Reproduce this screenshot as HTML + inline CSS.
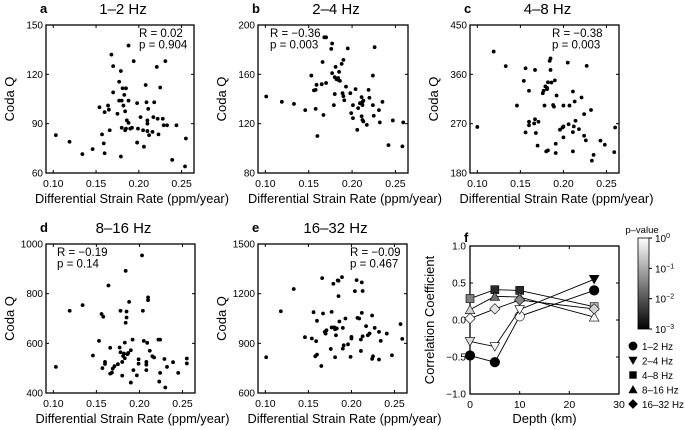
<!DOCTYPE html>
<html><head><meta charset="utf-8"><style>
body{margin:0;background:#fff;}
svg{display:block;font-family:"Liberation Sans",sans-serif;}
</style></head><body>
<svg id="fig" width="685" height="430" viewBox="0 0 685 430"></svg>
<script>
const aX=[0.103,0.119,0.134,0.146,0.154,0.157,0.159,0.160,0.160,0.164,0.165,0.166,0.168,0.170,0.170,0.175,0.177,0.177,0.179,0.179,0.180,0.180,0.181,0.182,0.183,0.184,0.184,0.185,0.185,0.186,0.188,0.188,0.188,0.190,0.192,0.194,0.198,0.198,0.199,0.202,0.205,0.206,0.208,0.209,0.210,0.210,0.210,0.211,0.212,0.216,0.217,0.218,0.221,0.222,0.223,0.225,0.228,0.229,0.231,0.233,0.239,0.244,0.254,0.255];
const aQ=[83,79,71.5,74.5,100,83.5,78,72,97,101,98.5,86,132,125,109,96,115.5,104,70,122,104,87.5,111.5,101,107.5,86,97.5,111.5,87,92,104,137.5,90.5,87,87.5,128,78.5,102.5,87,94,86,76,113.5,103,85.5,90,92,99,83,85,94,103,124.5,93,83.5,112,93,89,128,89,68,89,64,81];
const bX=[0.101,0.119,0.133,0.146,0.153,0.156,0.158,0.158,0.159,0.160,0.165,0.166,0.167,0.168,0.170,0.170,0.176,0.177,0.177,0.179,0.180,0.180,0.181,0.182,0.184,0.184,0.185,0.186,0.188,0.190,0.189,0.190,0.191,0.193,0.195,0.198,0.199,0.201,0.201,0.204,0.206,0.207,0.209,0.211,0.211,0.212,0.212,0.212,0.213,0.213,0.217,0.219,0.220,0.224,0.224,0.225,0.226,0.231,0.232,0.235,0.242,0.247,0.258,0.259];
const bQ=[142,137.7,136,131,159,147,132,147.4,151.5,110,152,170,127,190,153,190,180.6,185,161,135,144,157.7,166,156,157,155.5,162,154.7,168.5,171.7,144.7,142.3,139,150,181,144.7,128.5,124.5,135,148,115,132.6,136.6,141.5,126,135,137.7,123,138.7,121.8,119,147.4,141,159,135,126.4,182,131,121,137.7,102.6,122.6,101.6,121];
const cX=[0.100,0.119,0.133,0.146,0.156,0.156,0.160,0.160,0.160,0.154,0.166,0.167,0.167,0.168,0.170,0.171,0.176,0.177,0.178,0.179,0.180,0.181,0.181,0.182,0.182,0.184,0.185,0.185,0.186,0.188,0.189,0.190,0.191,0.191,0.192,0.196,0.199,0.200,0.200,0.200,0.205,0.206,0.207,0.211,0.211,0.211,0.212,0.213,0.214,0.218,0.221,0.224,0.224,0.226,0.227,0.232,0.233,0.235,0.243,0.248,0.259,0.260];
const cQ=[264,401.5,375,303,254,371,273.5,267,330,348,270.4,368,278,253,230,273.5,325.6,330,303,338,219.5,335,333,221.3,345.6,384.5,368,389,345,304,301,349,216.5,233.4,321.4,259,263,265,245,303,381.4,269,303,328.7,254.6,219.5,265,310.5,275.3,260,317.7,287.4,248,239.5,375.4,295,202.5,213,239,231.6,218,263];
const dX=[0.103,0.119,0.134,0.146,0.153,0.156,0.157,0.158,0.160,0.160,0.164,0.166,0.166,0.168,0.169,0.171,0.175,0.177,0.178,0.178,0.180,0.180,0.181,0.182,0.183,0.183,0.184,0.184,0.185,0.185,0.186,0.187,0.188,0.190,0.190,0.192,0.193,0.197,0.199,0.199,0.203,0.204,0.205,0.208,0.208,0.208,0.209,0.210,0.210,0.212,0.215,0.217,0.222,0.223,0.224,0.224,0.229,0.230,0.232,0.239,0.245,0.255,0.255];
const dQ=[505,731,754,551,610,718,500,707,525,517,833,478,582,482,498,508,516,583,564,731,470,525,549,559,603,540,892,683,704,728,556,561,767,442,572,615,492,471,536,518,954,731,610,525,514,492,602,774,785,570,548,543,615,446,615,481,537,422,505,524,481,539,519];
const eX=[0.101,0.118,0.133,0.146,0.154,0.156,0.158,0.159,0.160,0.160,0.165,0.166,0.167,0.169,0.170,0.171,0.176,0.177,0.177,0.179,0.180,0.181,0.181,0.182,0.183,0.184,0.185,0.185,0.186,0.189,0.190,0.190,0.191,0.193,0.196,0.199,0.200,0.200,0.204,0.206,0.207,0.209,0.211,0.211,0.212,0.212,0.213,0.213,0.217,0.219,0.221,0.224,0.224,0.225,0.227,0.232,0.232,0.234,0.241,0.247,0.257,0.259];
const eQ=[816,1094,1228,937,929,1088,822,913,1036,832,763,1294,1080,969,959,979,866,1090,996,1260,996,816,985,949,990,1280,1185,1278,1032,1300,993,868,888,1050,894,818,939,929,1215,1282,1054,1050,923,854,1268,1084,1216,943,1004,949,959,1068,806,822,993,802,969,915,959,828,1016,927];
const depths=[0,5,10,25];
const r12=[-0.48,-0.57,0.05,0.40], p12=[0.001,0.001,0.9,0.001];
const r24=[-0.29,-0.36,0.14,0.55], p24=[0.4,0.9,0.9,0.001];
const r48=[0.29,0.41,0.40,0.18], p48=[0.03,0.003,0.003,0.15];
const r816=[0.14,0.32,0.31,0.04], p816=[0.3,0.02,0.25,0.9];
const r1632=[0.02,0.15,0.27,0.15], p1632=[0.9,0.5,0.04,0.3];

const NS="http://www.w3.org/2000/svg";
const svg=document.getElementById('fig');
function mk(tag,attrs,parent){const e=document.createElementNS(NS,tag);for(const k in attrs)e.setAttribute(k,attrs[k]);(parent||svg).appendChild(e);return e;}
function txt(x,y,s,size,anchor,parent,extra){const t=mk('text',Object.assign({x:x,y:y,'font-size':size,'text-anchor':anchor||'start',fill:'#000'},extra||{}),parent);t.textContent=s;return t;}

function scatter(cfg){
  const g=mk('g',{});
  
  
  const L=cfg.x0,R=cfg.x1,T=cfg.y0,B=cfg.y1;
  const sx=v=>L+(v-0.0915)/(0.2645-0.0915)*(R-L);
  const sy=v=>B-(v-cfg.ymin)/(cfg.ymax-cfg.ymin)*(B-T);
  const box=mk('rect',{x:L,y:T,width:R-L,height:B-T,fill:'none',stroke:'#000','stroke-width':1.3},g);
  
  
  [0.10,0.15,0.20,0.25].forEach(v=>{
    const x=sx(v);
    mk('line',{x1:x,y1:B,x2:x,y2:B-3,stroke:'#000'},g);
    mk('line',{x1:x,y1:T,x2:x,y2:T+3,stroke:'#000'},g);
    const t=txt(x,B+14,v.toFixed(2),10.5,'middle',g);
    
    
  });
  cfg.yt.forEach(v=>{
    const y=sy(v);
    mk('line',{x1:L,y1:y,x2:L+3,y2:y,stroke:'#000'},g);
    mk('line',{x1:R,y1:y,x2:R-3,y2:y,stroke:'#000'},g);
    const t=txt(L-3,y+3.5,String(v),10,'end',g);
    
    
  });
  cfg.xs.forEach((v,i)=>{
    const c=mk('circle',{cx:sx(v),cy:sy(cfg.ys[i]),r:1.9,fill:'#000'},g);
    
    
  });
  const xt=txt((L+R)/2+12,B+30,'Differential Strain Rate (ppm/year)',12.8,'middle',g);
  
  
  const yt=txt(0,0,'Coda Q',13,'middle',g,{transform:`translate(${L-32},${(T+B)/2}) rotate(-90)`});
  
  
  const lt=txt(L-6,T-12,cfg.letter,13,'start',g,{'font-weight':'bold'});
  
  
  const tt=txt((L+R)/2+3,T-11,cfg.title,15,'middle',g);
  
  
  const s1=txt(cfg.sx,cfg.sy,cfg.rs,11.5,'start',g);
  
  
  const s2=txt(cfg.sx,cfg.sy+11.5,cfg.ps,11.5,'start',g);
  
  
}
scatter({name:'panel-a',x0:46,x1:194,y0:25,y1:173,ymin:60,ymax:150,yt:[60,90,120,150],xs:aX,ys:aQ,letter:'a',title:'1–2 Hz',sx:139,sy:37,rs:'R = 0.02',ps:'p = 0.904'});
scatter({name:'panel-b',x0:258,x1:408,y0:25,y1:173,ymin:80,ymax:200,yt:[80,120,160,200],xs:bX,ys:bQ,letter:'b',title:'2–4 Hz',sx:270,sy:37,rs:'R = −0.36',ps:'p = 0.003'});
scatter({name:'panel-c',x0:470,x1:619,y0:25,y1:173,ymin:180,ymax:450,yt:[180,270,360,450],xs:cX,ys:cQ,letter:'c',title:'4–8 Hz',sx:552,sy:37,rs:'R = −0.38',ps:'p = 0.003'});
scatter({name:'panel-d',x0:46,x1:195,y0:244,y1:393,ymin:400,ymax:1000,yt:[400,600,800,1000],xs:dX,ys:dQ,letter:'d',title:'8–16 Hz',sx:57,sy:256,rs:'R = −0.19',ps:'p = 0.14'});
scatter({name:'panel-e',x0:258,x1:407,y0:244,y1:393,ymin:600,ymax:1500,yt:[600,900,1200,1500],xs:eX,ys:eQ,letter:'e',title:'16–32 Hz',sx:350,sy:256,rs:'R = −0.09',ps:'p = 0.467'});

// panel f
(function(){
  const g=mk('g',{});
  
  
  const L=470,R=619,T=246,B=394;
  const sx=v=>L+v/30*(R-L), sy=v=>B-(v+1)/2*(B-T);
  const gray=p=>{const f=(Math.log10(p)+3)/3;const c=Math.round(Math.max(0,Math.min(1,f))*255);return `rgb(${c},${c},${c})`;};
  const box=mk('rect',{x:L,y:T,width:R-L,height:B-T,fill:'none',stroke:'#000','stroke-width':1.3},g);
  
  
  [0,10,20,30].forEach(v=>{const x=sx(v);mk('line',{x1:x,y1:B,x2:x,y2:B-3,stroke:'#000'},g);mk('line',{x1:x,y1:T,x2:x,y2:T+3,stroke:'#000'},g);
    const t=txt(x,B+14,String(v),10.5,'middle',g);});
  [-1,-0.5,0,0.5,1].forEach(v=>{const y=sy(v);mk('line',{x1:L,y1:y,x2:L+3,y2:y,stroke:'#000'},g);mk('line',{x1:R,y1:y,x2:R-3,y2:y,stroke:'#000'},g);
    const t=txt(L-4,y+3.5,v.toFixed(1).replace('-','−'),10,'end',g);});
  const xt=txt((L+R)/2,B+29,'Depth (km)',13,'middle',g);
  const yt=txt(0,0,'Correlation Coefficient',13,'middle',g,{transform:`translate(${L-36},${(T+B)/2}) rotate(-90)`});
  const lt=txt(L-6,T-4,'f',13,'start',g,{'font-weight':'bold'});
  function marker(shape,x,y,fill,parent,s){
    s=s||1;let e;
    if(shape==='circle')e=mk('circle',{cx:x,cy:y,r:4.8*s,fill:fill,stroke:'#000','stroke-width':0.6},parent);
    else if(shape==='square')e=mk('rect',{x:x-4*s,y:y-4*s,width:8*s,height:8*s,fill:fill,stroke:'#000','stroke-width':0.6},parent);
    else if(shape==='down')e=mk('polygon',{points:`${x-4.8*s},${y-4*s} ${x+4.8*s},${y-4*s} ${x},${y+4.5*s}`,fill:fill,stroke:'#000','stroke-width':0.6},parent);
    else if(shape==='up')e=mk('polygon',{points:`${x-4.8*s},${y+4*s} ${x+4.8*s},${y+4*s} ${x},${y-4.5*s}`,fill:fill,stroke:'#000','stroke-width':0.6},parent);
    else e=mk('polygon',{points:`${x},${y-5.2*s} ${x+5.2*s},${y} ${x},${y+5.2*s} ${x-5.2*s},${y}`,fill:fill,stroke:'#000','stroke-width':0.6},parent);
    return e;
  }
  const series=[['1–2 Hz','circle',r12,p12],['2–4 Hz','down',r24,p24],['4–8 Hz','square',r48,p48],['8–16 Hz','up',r816,p816],['16–32 Hz','diamond',r1632,p1632]];
  series.forEach(([lab,shape,rv,pv])=>{
    const sg=mk('g',{},g);
    
    
    const ln=mk('polyline',{points:depths.map((d,i)=>sx(d)+','+sy(rv[i])).join(' '),fill:'none',stroke:'#000','stroke-width':0.9},sg);
    
    
    depths.forEach((d,i)=>{const m=marker(shape,sx(d),sy(rv[i]),gray(pv[i]),sg);
      
      });
  });
  const lg=mk('g',{});
  
  
  series.forEach(([lab,shape],i)=>{
    const y=346+i*14.5;
    const m=marker(shape,633,y,'#000',lg,0.85);
    
    
    const t=txt(642,y+4,lab,9.8,'start',lg);
    
    
  });
  const cb=mk('g',{});
  
  
  const defs=mk('defs',{},svg);
  const grad=mk('linearGradient',{id:'pg',x1:0,y1:0,x2:0,y2:1},defs);
  mk('stop',{offset:'0','stop-color':'#fff'},grad);
  mk('stop',{offset:'1','stop-color':'#000'},grad);
  const r=mk('rect',{x:638,y:238,width:11,height:91,fill:'url(#pg)',stroke:'#000','stroke-width':0.8},cb);
  
  
  const pt=txt(642,233,'p–value',9.5,'middle',cb);
  
  
  ['0','−1','−2','−3'].forEach((e,i)=>{
    const y=238+i*91/3;
    mk('line',{x1:649,y1:y,x2:652,y2:y,stroke:'#000'},cb);
    const t=mk('text',{x:655,y:y+4,'font-size':10,fill:'#000'},cb);
    
    
    t.textContent='10';
    const sp=mk('tspan',{dy:-4,'font-size':7},t);sp.textContent=e;
  });
})();
</script>
</body></html>
